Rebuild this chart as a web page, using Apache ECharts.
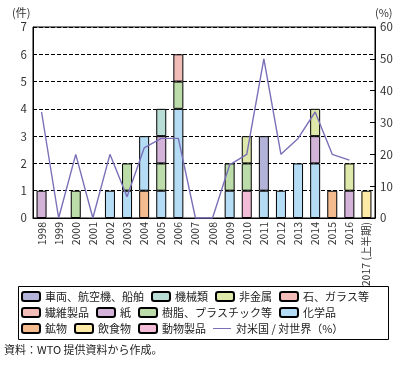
<!DOCTYPE html>
<html><head><meta charset="utf-8">
<script src="https://cdn.jsdelivr.net/npm/echarts@6/dist/echarts.min.js"></script>
<style>html,body{margin:0;padding:0;background:#fff}#c{width:403px;height:365px}</style>
</head><body><div id="c"></div>
<script>
const years = ['1998','1999','2000','2001','2002','2003','2004','2005','2006','2007','2008','2009','2010','2011','2012','2013','2014','2015','2016','2017 (上半期)'];
// counts per category (null = none)
const kobutsu   = [null,null,null,null,null,null,1,null,null,null,null,null,null,null,null,null,null,1,null,null]; // 鉱物
const doubutsu  = [null,null,null,null,null,null,null,null,null,null,null,null,1,null,null,null,null,null,null,null]; // 動物製品
const inshoku   = [null,null,null,null,null,null,null,null,null,null,null,null,null,null,null,null,null,null,null,1]; // 飲食物
const kagaku    = [null,null,null,null,1,1,2,1,4,null,null,1,null,1,1,2,2,null,null,null]; // 化学品
const jushi     = [null,null,1,null,null,1,null,1,1,null,null,1,1,null,null,null,null,null,null,null]; // 樹脂、プラスチック等
const kami      = [1,null,null,null,null,null,null,1,null,null,null,null,null,null,null,null,1,null,1,null]; // 紙
const kikai     = [null,null,null,null,null,null,null,1,null,null,null,null,null,null,null,null,null,null,null,null]; // 機械類
const sharyo    = [null,null,null,null,null,null,null,null,null,null,null,null,null,2,null,null,null,null,null,null]; // 車両、航空機、船舶
const sen_i     = [null,null,null,null,null,null,null,null,1,null,null,null,null,null,null,null,null,null,null,null]; // 繊維製品
const ishi      = [null,null,null,null,null,null,null,null,null,null,null,null,null,null,null,null,null,null,null,null]; // 石、ガラス等
const hikinzoku = [null,null,null,null,null,null,null,null,null,null,null,null,1,null,null,null,1,null,1,null]; // 非金属
const ratio     = [33.3,0,20,0,20,6.7,22,25,25,0,0,16.7,20,50,20,25,33.3,20,18.2,null]; // 対米国/対世界（%）

const barDefs = [
  ['鉱物', kobutsu, '#f4bb8f'],
  ['動物製品', doubutsu, '#f3bcd9'],
  ['飲食物', inshoku, '#fdeaa6'],
  ['化学品', kagaku, '#b5dcf5'],
  ['樹脂、プラスチック等', jushi, '#bcdca9'],
  ['紙', kami, '#d3b3d8'],
  ['機械類', kikai, '#b7ddd5'],
  ['車両、航空機、船舶', sharyo, '#b3b2d8'],
  ['繊維製品', sen_i, '#f2bdb9'],
  ['石、ガラス等', ishi, '#f2bdb9'],
  ['非金属', hikinzoku, '#dde8aa']
];
const font = '"Noto Sans CJK JP", sans-serif';
const lineColor = '#7a70b8';
const series = barDefs.map(d => ({
  name: d[0], type: 'bar', stack: 'a', yAxisIndex: 0, data: d[1], barWidth: 10,
  itemStyle: {color: d[2], borderColor: '#000', borderWidth: 1}
}));
series.push({
  name: '対米国 / 対世界（%）', type: 'line', yAxisIndex: 1, data: ratio,
  symbol: 'none', lineStyle: {color: lineColor, width: 1.4}, itemStyle: {color: lineColor}, z: 5
});
const legText = {fontFamily: font, fontSize: 11, color: '#222'};
const legBase = {orient: 'horizontal', left: 21, itemWidth: 18, itemHeight: 9, itemGap: 7, padding: 0, textStyle: legText, selectedMode: false};
const lineIcon = 'path://M0,0L0.1,0L0.1,0.1L0,0.1Z M0,4.4L20,4.4L20,5.6L0,5.6Z M0,9.9L0.1,9.9L0.1,10L0,10Z';
const chart = echarts.init(document.getElementById('c'));
chart.setOption({
  animation: false,
  textStyle: {fontFamily: font},
  grid: {left: 33, right: 28, top: 27, bottom: 147, show: true, borderColor: '#000', borderWidth: 1},
  legend: [
    Object.assign({}, legBase, {top: 291, data: ['車両、航空機、船舶','機械類','非金属','石、ガラス等']}),
    Object.assign({}, legBase, {top: 307, data: ['繊維製品','紙','樹脂、プラスチック等','化学品']}),
    Object.assign({}, legBase, {top: 323, data: ['鉱物','飲食物','動物製品',
      {name: '対米国 / 対世界（%）', icon: lineIcon, itemStyle: {color: lineColor, borderWidth: 0}}]})
  ],
  xAxis: {
    type: 'category', data: years,
    axisLine: {lineStyle: {color: '#000'}},
    axisTick: {inside: true, length: 4, lineStyle: {color: '#000'}},
    axisLabel: {rotate: 90, fontSize: 10.5, color: '#333', margin: 4, interval: 0}
  },
  yAxis: [
    {type: 'value', min: 0, max: 7, interval: 1,
     axisLine: {show: true, lineStyle: {color: '#000'}}, axisTick: {show: false},
     axisLabel: {fontSize: 11.5, color: '#333', margin: 6},
     splitLine: {lineStyle: {color: '#000', type: [4, 2], width: 1}}},
    {type: 'value', min: 0, max: 60, interval: 10, position: 'right',
     axisLine: {show: true, lineStyle: {color: '#000'}},
     axisTick: {show: true, inside: true, length: 5, lineStyle: {color: '#000'}},
     axisLabel: {fontSize: 11.5, color: '#333', margin: 5},
     splitLine: {show: false}}
  ],
  graphic: [
    {type: 'text', left: 12, top: 7, style: {text: '(件)', font: '11px ' + font, fill: '#333'}},
    {type: 'text', left: 375, top: 7, style: {text: '(%)', font: '11px ' + font, fill: '#333'}},
    {type: 'rect', shape: {x: 18.5, y: 286.5, width: 370, height: 53}, style: {fill: 'none', stroke: '#000', lineWidth: 1}},
    {type: 'text', left: 4, top: 344, style: {text: '資料：WTO 提供資料から作成。', font: '11px ' + font, fill: '#222'}}
  ],
  series: series
});
</script></body></html>
